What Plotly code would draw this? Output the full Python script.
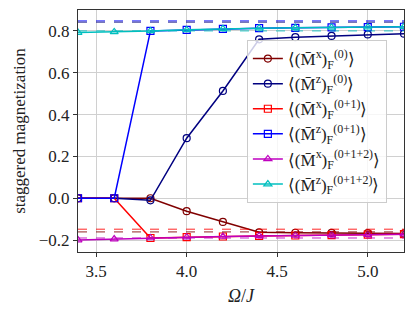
import plotly.graph_objects as go

omega = [3.4, 3.6, 3.8, 4.0, 4.2, 4.4, 4.6, 4.8, 5.0, 5.2]

mx0 = [0.0, 0.0, 0.0, -0.062, -0.113, -0.163, -0.165, -0.166, -0.167, -0.168]
mz0 = [0.0, 0.0, -0.010, 0.287, 0.513, 0.760, 0.770, 0.776, 0.783, 0.787]
mx01 = [0.0, 0.0, -0.190, -0.186, -0.183, -0.180, -0.178, -0.176, -0.174, -0.172]
mz01 = [0.0, 0.0, 0.800, 0.805, 0.810, 0.813, 0.815, 0.817, 0.818, 0.820]
mx012 = [-0.200, -0.195, -0.190, -0.186, -0.183, -0.180, -0.178, -0.176, -0.174, -0.172]
mz012 = [0.792, 0.795, 0.800, 0.805, 0.810, 0.813, 0.815, 0.817, 0.818, 0.820]

# reference (dashed) levels
ref_levels = [0.848, 0.842, 0.800, -0.148, -0.161, -0.190]
ref_colors = ["#0000ff", "#000080", "#00bfbf", "#ff0000", "#800000", "#bf00bf"]

labels = [
    "⟨(M̄<sup>x</sup>)<sub>F</sub><sup>(0)</sup>⟩",
    "⟨(M̄<sup>z</sup>)<sub>F</sub><sup>(0)</sup>⟩",
    "⟨(M̄<sup>x</sup>)<sub>F</sub><sup>(0+1)</sup>⟩",
    "⟨(M̄<sup>z</sup>)<sub>F</sub><sup>(0+1)</sup>⟩",
    "⟨(M̄<sup>x</sup>)<sub>F</sub><sup>(0+1+2)</sup>⟩",
    "⟨(M̄<sup>z</sup>)<sub>F</sub><sup>(0+1+2)</sup>⟩",
]
series = [mx0, mz0, mx01, mz01, mx012, mz012]
colors = ["#800000", "#000080", "#ff0000", "#0000ff", "#bf00bf", "#00bfbf"]
symbols = ["circle-open", "circle-open", "square-open", "square-open",
           "triangle-up-open", "triangle-up-open"]

fig = go.Figure()

for lvl, c in zip(ref_levels, ref_colors):
    fig.add_hline(y=lvl, line=dict(color=c, width=1, dash="dash"), opacity=0.85)

for lab, ys, c, s in zip(labels, series, colors, symbols):
    fig.add_trace(go.Scatter(
        x=omega, y=ys, mode="lines+markers", name=lab,
        line=dict(color=c, width=1.5),
        marker=dict(symbol=s, size=7, color=c, line=dict(width=1.2, color=c)),
    ))

FF = "Liberation Serif"
axis_common = dict(
    showgrid=True, gridcolor="#d0d0d0", gridwidth=1,
    showline=True, linecolor="#333333", linewidth=1, mirror=True,
    ticks="outside", ticklen=4, tickcolor="#333333",
    zeroline=False, automargin=False,
    tickfont=dict(size=17, color="#222222", family=FF),
)

fig.update_layout(
    width=415, height=311,
    margin=dict(l=78, r=11, t=10, b=59, autoexpand=False),
    paper_bgcolor="white", plot_bgcolor="white",
    font=dict(family=FF, color="#222222"),
    showlegend=True,
    legend=dict(
        x=0.518, y=0.876, xanchor="left", yanchor="top",
        bgcolor="rgba(255,255,255,0.8)", bordercolor="#cccccc", borderwidth=1,
        font=dict(size=17, family=FF),
        itemwidth=30,
    ),
    xaxis=dict(range=[3.4, 5.2], tickvals=[3.5, 4.0, 4.5, 5.0],
               ticktext=["3.5", "4.0", "4.5", "5.0"],
               title=dict(text="<i>Ω</i>/<i>J</i>", font=dict(size=18, family=FF), standoff=8),
               **axis_common),
    yaxis=dict(range=[-0.257, 0.9], tickvals=[-0.2, 0.0, 0.2, 0.4, 0.6, 0.8],
               ticktext=["−0.2", "0.0", "0.2", "0.4", "0.6", "0.8"],
               title=dict(text="staggered magnetization", font=dict(size=17, family=FF), standoff=8),
               **axis_common),
)

fig.write_html("out.html", config={"displayModeBar": False},
               post_script="document.body.style.margin='0px';")
